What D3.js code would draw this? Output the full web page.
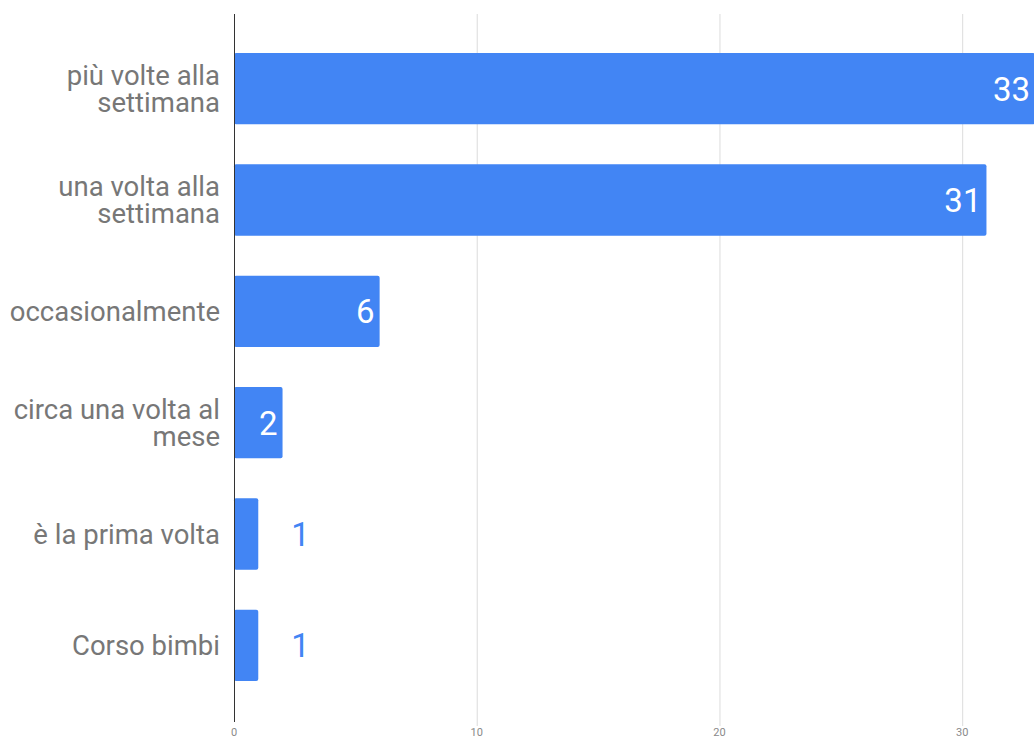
<!DOCTYPE html>
<html>
<head>
<meta charset="utf-8">
<script src="https://cdn.jsdelivr.net/npm/d3@7"></script>
<style>
  body { margin: 0; background: #fff; }
  svg { display: block; font-family: Roboto, sans-serif; }
</style>
</head>
<body>
<div id="chart"></div>
<script>
// labels, split into lines as they wrap in the picture
const categories = [
    ['più volte alla', 'settimana'],
    ['una volta alla', 'settimana'],
    ['occasionalmente'],
    ['circa una volta al', 'mese'],
    ['è la prima volta'],
    ['Corso bimbi']
];
const values = [33, 31, 6, 2, 1, 1];
const xTicks = [0, 10, 20, 30];

const W = 1034, H = 738;
const x0 = 234;

let xScale = d3.scaleLinear()
    .domain([0, 33])
    .range([x0, 1035]);

let yScale = d3.scaleBand()
    .domain(d3.range(values.length))
    .range([33, 701])
    .paddingInner(0.36)
    .paddingOuter(0.18);

let svg = d3.select('#chart').append('svg')
    .attr('width', W)
    .attr('height', H);

// grid lines
svg.append('g')
    .selectAll('line')
    .data(xTicks.filter(d => d > 0))
    .enter()
    .append('line')
    .attr('x1', d => xScale(d) + 0.5)
    .attr('x2', d => xScale(d) + 0.5)
    .attr('y1', 14)
    .attr('y2', 726)
    .attr('stroke', '#dcdcdc')
    .attr('stroke-width', 1);

// tick labels
svg.append('g')
    .selectAll('text')
    .data(xTicks)
    .enter()
    .append('text')
    .attr('x', d => xScale(d))
    .attr('y', 736)
    .attr('text-anchor', 'middle')
    .attr('font-size', 11)
    .attr('fill', '#8a8a8a')
    .text(d => d);

// bars
svg.append('g')
    .selectAll('rect')
    .data(values)
    .enter()
    .append('rect')
    .attr('x', x0)
    .attr('y', (d, i) => yScale(i))
    .attr('width', d => xScale(d) - x0)
    .attr('height', yScale.bandwidth())
    .attr('rx', 2)
    .attr('fill', '#4285f4');

// axis line
svg.append('line')
    .attr('x1', x0 + 0.5)
    .attr('x2', x0 + 0.5)
    .attr('y1', 14)
    .attr('y2', 722)
    .attr('stroke', '#333')
    .attr('stroke-width', 1);

// value labels: inside when the bar is wide enough, otherwise after it
svg.append('g')
    .selectAll('text')
    .data(values)
    .enter()
    .append('text')
    .attr('x', d => d >= 2 ? xScale(d) - 5 : xScale(d) + 33)
    .attr('y', (d, i) => yScale(i) + yScale.bandwidth() / 2)
    .attr('dy', '0.36em')
    .attr('text-anchor', d => d >= 2 ? 'end' : 'start')
    .attr('font-size', 33)
    .attr('fill', d => d >= 2 ? '#ffffff' : '#4285f4')
    .text(d => d);

// category labels
let cat = svg.append('g')
    .selectAll('text')
    .data(categories)
    .enter()
    .append('text')
    .attr('text-anchor', 'end')
    .attr('font-size', 27.5)
    .attr('fill', '#777777');

cat.each(function (lines, i) {
    let cy = yScale(i) + yScale.bandwidth() / 2;
    let lh = 27;
    let first = cy - (lines.length - 1) * lh / 2;
    d3.select(this).selectAll('tspan')
        .data(lines)
        .enter()
        .append('tspan')
        .attr('x', 220)
        .attr('y', (d, j) => first + j * lh)
        .attr('dy', '0.36em')
        .text(d => d);
});
</script>
</body>
</html>
